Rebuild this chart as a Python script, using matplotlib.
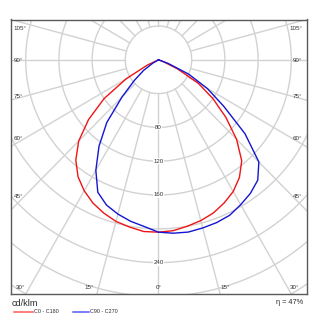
import numpy as np
import matplotlib
matplotlib.use("Agg")
import matplotlib.pyplot as plt
from matplotlib.lines import Line2D

# ---------------- data (cd/klm) ----------------
gamma = [0, 5, 10, 15, 20, 25, 30, 35, 40, 45, 50, 55, 60, 65, 70, 75, 80, 85, 90]
c0   = [204, 203, 200, 197, 193, 187, 180, 170, 156, 133, 106, 80, 55, 25, 5, 0, 0, 0, 0]
c180 = [204, 204, 201, 198, 193, 187, 179, 169, 155, 136, 110, 80, 45, 15, 0, 0, 0, 0, 0]
c90  = [204, 206, 207, 206, 205, 203, 198, 193, 186, 171, 136, 96, 68, 40, 12, 0, 0, 0, 0]
c270 = [204, 198, 194, 189, 183, 173, 151, 125, 97, 62, 38, 22, 8, 0, 0, 0, 0, 0, 0]

radial_labels = [80, 120, 160, 240]
grid_radii = [40, 80, 120, 160, 200, 240, 280, 320, 360]
bottom_angles = [0, 15, 30]
side_angles = [45, 60, 75, 90, 105]
unit_text = "cd/klm"
legend_labels = ["C0 - C180", "C90 - C270"]
eff_text = "\u03b7 = 47%"

# ---------------- layout ----------------
W, H = 322, 335
fig = plt.figure(figsize=(W / 100, H / 100), dpi=100)
L, R, T, B = 11, 307, 19.5, 294
cx, cy = 158.5, 59.8
sx, sy = 0.83, 0.845
ax = fig.add_axes([L / W, 1 - B / H, (R - L) / W, (B - T) / H])
x0, x1 = (L - cx) / sx, (R - cx) / sx
y0, y1 = -(B - cy) / sy, (cy - T) / sy
ax.set_xlim(x0, x1)
ax.set_ylim(y0, y1)
ax.set_aspect('auto')
ax.set_xticks([])
ax.set_yticks([])
for sp in ax.spines.values():
    sp.set_color('#5a5a5a')
    sp.set_linewidth(1.0)

FONT = ['Liberation Sans', 'DejaVu Sans']
gcol = '#d2d2d2'

# grid circles
th = np.linspace(0, 2 * np.pi, 721)
for r in grid_radii:
    ax.plot(r * np.sin(th), -r * np.cos(th), color=gcol, lw=1.0, zorder=1)
# spokes
for a in range(0, 360, 15):
    t = np.radians(a)
    ax.plot([40 * np.sin(t), 600 * np.sin(t)], [-40 * np.cos(t), -600 * np.cos(t)],
            color=gcol, lw=1.0, zorder=1)

# radial labels
for r in radial_labels:
    ax.text(0, -r, str(r), ha='center', va='center', fontsize=4.4, color='#333333',
            family=FONT, zorder=3,
            bbox=dict(fc='white', ec='none', pad=0.4))

# bottom angle labels
ylab = y0 + 6.3 / sy
for a in bottom_angles:
    t = np.radians(a)
    xs = -ylab * np.tan(t)
    if a == 0:
        ax.annotate(f"{a}\u00b0", (0, ylab), ha='center', va='center', fontsize=4.5,
                    color='#333333', family=FONT, zorder=3)
    else:
        ax.annotate(f"{a}\u00b0", (xs, ylab), xytext=(1.5, 0), textcoords='offset points',
                    ha='left', va='center', fontsize=4.5, color='#333333', family=FONT, zorder=3)
        ax.annotate(f"{a}\u00b0", (-xs, ylab), xytext=(-3.2, 0), textcoords='offset points',
                    ha='right', va='center', fontsize=4.5, color='#333333', family=FONT, zorder=3)

# side angle labels
side_dy = {45: 6.8, 60: 4.2, 75: 1.4, 90: -0.9, 105: -6.8}
xin = (cx - 18) / sx
for a in side_angles:
    t = np.radians(a)
    yspoke = -(xin * np.cos(t) / np.sin(t))
    off = side_dy[a] * 0.72
    ax.annotate(f"{a}\u00b0", (x0, yspoke), xytext=(2.0, off), textcoords='offset points',
                ha='left', va='center', fontsize=4.5, color='#333333', family=FONT, zorder=3)
    ax.annotate(f"{a}\u00b0", (x1, yspoke), xytext=(-3.2, off), textcoords='offset points',
                ha='right', va='center', fontsize=4.5, color='#333333', family=FONT, zorder=3)

# curves
g = np.radians(np.array(gamma, dtype=float))
ang = np.concatenate([-g[::-1], g[1:]])
red_v = np.concatenate([np.array(c180[::-1], float), np.array(c0[1:], float)])
blue_v = np.concatenate([np.array(c270[::-1], float), np.array(c90[1:], float)])
ax.plot(red_v * np.sin(ang), -red_v * np.cos(ang), color='#f01414', lw=1.0, zorder=4)
ax.plot(blue_v * np.sin(ang), -blue_v * np.cos(ang), color='#1414d2', lw=1.0, zorder=4)

# texts below
def fx(px):
    return px / W

def fy(py):
    return 1 - py / H

fig.text(fx(12), fy(303), unit_text, ha='left', va='center', fontsize=6.6,
         color='#2a2a2a', family=FONT)
fig.text(fx(302.7), fy(302.7), eff_text, ha='right', va='center', fontsize=5.3,
         color='#2a2a2a', family=FONT)
fig.add_artist(Line2D([fx(13.5), fx(32.5)], [fy(311.5), fy(311.5)],
                      transform=fig.transFigure, color='#ff5a5a', lw=1.1))
fig.text(fx(33.5), fy(311.5), legend_labels[0], ha='left', va='center', fontsize=3.9,
         color='#2a2a2a', family=FONT)
fig.add_artist(Line2D([fx(73), fx(89)], [fy(311.5), fy(311.5)],
                      transform=fig.transFigure, color='#5a5aff', lw=1.1))
fig.text(fx(90), fy(311.5), legend_labels[1], ha='left', va='center', fontsize=3.9,
         color='#2a2a2a', family=FONT)

fig.savefig("out.png", dpi=100)
